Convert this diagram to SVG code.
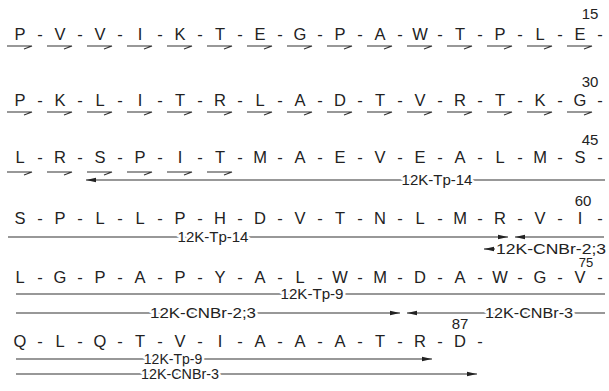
<svg xmlns="http://www.w3.org/2000/svg" width="609" height="391" viewBox="0 0 609 391">
<style>
.res{font-family:"Liberation Sans Narrow","Liberation Sans",Arial,sans-serif;font-size:16.5px;fill:#222;text-anchor:middle}
.num{font-family:"Liberation Sans",Arial,sans-serif;font-size:15px;fill:#222;text-anchor:middle}
.lab{font-family:"Liberation Sans",Arial,sans-serif;font-size:15px;fill:#222;text-anchor:middle;stroke:#fff;stroke-width:5;paint-order:stroke;stroke-linejoin:round}
.lab2{font-family:"Liberation Sans",Arial,sans-serif;font-size:15px;fill:#222}
.harp{fill:none;stroke:#333;stroke-width:1.1}
.ln{stroke:#333;stroke-width:1.1;fill:none}
</style>
<defs>
<marker id="ah" viewBox="0 0 10 6" refX="10" refY="3" markerWidth="10" markerHeight="6" markerUnits="userSpaceOnUse" orient="auto-start-reverse"><path d="M0,0.8 L10,3 L0,5.2 Z" fill="#222"/></marker>
</defs>
<g id="row1">
<text class="res" x="20 40 60 80 100 120 140 160 180 200 220 240 260 280 300 320 340 360 380 400 420 440 460 480 500 520 540 560 580 600" y="40">P-V-V-I-K-T-E-G-P-A-W-T-P-L-E-</text>
<text class="num" x="590" y="19">15</text>
</g>
<g id="row2">
<text class="res" x="20 40 60 80 100 120 140 160 180 200 220 240 260 280 300 320 340 360 380 400 420 440 460 480 500 520 540 560 580 600" y="106">P-K-L-I-T-R-L-A-D-T-V-R-T-K-G-</text>
<text class="num" x="590" y="87">30</text>
</g>
<g id="row3">
<text class="res" x="20 40 60 80 100 120 140 160 180 200 220 240 260 280 300 320 340 360 380 400 420 440 460 480 500 520 540 560 580 600" y="163">L-R-S-P-I-T-M-A-E-V-E-A-L-M-S-</text>
<text class="num" x="590" y="145">45</text>
</g>
<g id="row4">
<text class="res" x="20 40 60 80 100 120 140 160 180 200 220 240 260 280 300 320 340 360 380 400 420 440 460 480 500 520 540 560 580 600" y="224">S-P-L-L-P-H-D-V-T-N-L-M-R-V-I-</text>
<text class="num" x="583" y="206">60</text>
</g>
<g id="row5">
<text class="res" x="20 40 60 80 100 120 140 160 180 200 220 240 260 280 300 320 340 360 380 400 420 440 460 480 500 520 540 560 580 600" y="283">L-G-P-A-P-Y-A-L-W-M-D-A-W-G-V-</text>
<text class="num" x="586" y="267" style="font-size:13px">75</text>
</g>
<g id="row6">
<text class="res" x="20 40 60 80 100 120 140 160 180 200 220 240 260 280 300 320 340 360 380 400 420 440 460 480" y="347">Q-L-Q-T-V-I-A-A-A-T-R-D-</text>
<text class="num" x="460" y="329">87</text>
</g>
<g id="connectors">
<path class="harp" d="M7 46H32l-8 3M47 46H72l-8 3M87 46H112l-8 3M127 46H152l-8 3M167 46H192l-8 3M207 46H232l-8 3M247 46H272l-8 3M287 46H312l-8 3M327 46H352l-8 3M367 46H392l-8 3M407 46H432l-8 3M447 46H472l-8 3M487 46H512l-8 3M527 46H552l-8 3M567 46H592l-8 3"/>
<path class="harp" d="M7 112H32l-8 3M47 112H72l-8 3M87 112H112l-8 3M127 112H152l-8 3M167 112H192l-8 3M207 112H232l-8 3M247 112H272l-8 3M287 112H312l-8 3M327 112H352l-8 3M367 112H392l-8 3M407 112H432l-8 3M447 112H472l-8 3M487 112H512l-8 3M527 112H552l-8 3M567 112H592l-8 3"/>
<path class="harp" d="M7 172H32l-8 3M47 172H72l-8 3M87 172H112l-8 3M127 172H152l-8 3M167 172H192l-8 3M207 172H232l-8 3"/>
<line class="ln" x1="86" y1="180" x2="605" y2="180" marker-start="url(#ah)"/>
<line class="ln" x1="8" y1="237" x2="508" y2="237" marker-end="url(#ah)"/>
<line class="ln" x1="515" y1="237" x2="604" y2="237" marker-start="url(#ah)"/>
<line class="ln" x1="484" y1="249" x2="495" y2="249" marker-start="url(#ah)"/>
<line class="ln" x1="16" y1="294" x2="605" y2="294"/>
<line class="ln" x1="16" y1="313" x2="400" y2="313" marker-end="url(#ah)"/>
<line class="ln" x1="407" y1="313" x2="605" y2="313" marker-start="url(#ah)"/>
<line class="ln" x1="16" y1="359" x2="432" y2="359" marker-end="url(#ah)"/>
<line class="ln" x1="16" y1="374" x2="477" y2="374" marker-end="url(#ah)"/>
</g>
<g id="labels">
<text class="lab" x="437" y="185">12K-Tp-14</text>
<text class="lab" x="213" y="242">12K-Tp-14</text>
<text class="lab2" x="496" y="254" textLength="110" lengthAdjust="spacingAndGlyphs">12K-CNBr-2;3</text>
<text class="lab" x="312" y="299" style="font-size:14px" textLength="63" lengthAdjust="spacingAndGlyphs">12K-Tp-9</text>
<text class="lab" x="203" y="318" textLength="106" lengthAdjust="spacingAndGlyphs">12K-CNBr-2;3</text>
<text class="lab" x="529" y="318" textLength="88" lengthAdjust="spacingAndGlyphs">12K-CNBr-3</text>
<text class="lab" x="173" y="364" style="font-size:14px">12K-Tp-9</text>
<text class="lab" x="180" y="379" style="font-size:14px" textLength="78" lengthAdjust="spacingAndGlyphs">12K-CNBr-3</text>
</g>
</svg>
